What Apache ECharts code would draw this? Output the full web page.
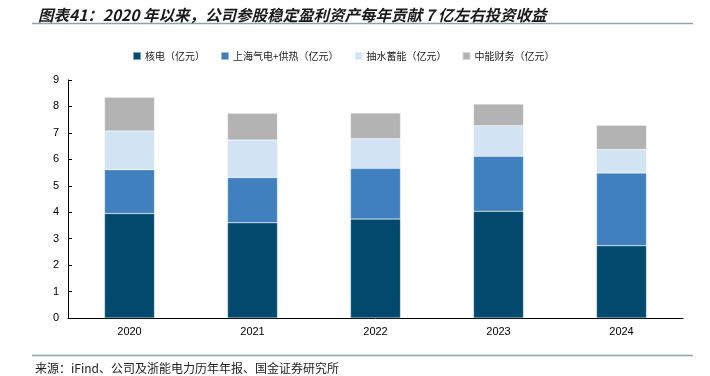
<!DOCTYPE html>
<html>
<head>
<meta charset="utf-8">
<script src="https://cdn.jsdelivr.net/npm/echarts@6/dist/echarts.min.js"></script>
<style>
html,body{margin:0;padding:0;background:#fff;}
#c{width:710px;height:376px;}
</style>
</head>
<body>
<div id="c"></div>
<script>
var categories = ['2020', '2021', '2022', '2023', '2024'];
var nuclear = [3.95, 3.60, 3.74, 4.04, 2.73];
var shanghaiGas = [1.66, 1.71, 1.92, 2.08, 2.75];
var pumpedHydro = [1.46, 1.42, 1.12, 1.15, 0.89];
var zhongnengFinance = [1.28, 1.01, 0.97, 0.82, 0.92];
var seriesNames = ['核电（亿元）', '上海气电+供热（亿元）', '抽水蓄能（亿元）', '中能财务（亿元）'];
var yTicks = [0, 1, 2, 3, 4, 5, 6, 7, 8, 9];
var colors = ['#014A6E', '#4180BE', '#D2E3F3', '#B3B3B3'];

var cjk = '"Noto Sans CJK SC", "Noto Sans", sans-serif';
var chart = echarts.init(document.getElementById('c'), null, {renderer: 'canvas'});

function mk(name, data, color) {
  return {
    name: name, type: 'bar', stack: 'total', data: data, barWidth: 50,
    itemStyle: {color: color, borderColor: 'rgba(255,255,255,0.5)', borderWidth: 0.5},
    emphasis: {disabled: true}
  };
}

chart.setOption({
  animation: false,
  color: colors,
  title: {
    text: '图表41：2020 年以来，公司参股稳定盈利资产每年贡献 7 亿左右投资收益',
    left: 33, top: 2,
    textStyle: {fontFamily: cjk, fontSize: 15.5, fontWeight: 'bold', fontStyle: 'italic', color: '#1a1a1a'}
  },
  legend: {
    data: seriesNames,
    left: 127, top: 46,
    icon: 'rect', itemWidth: 8, itemHeight: 8, itemGap: 15,
    textStyle: {fontFamily: cjk, fontSize: 10, color: '#222', padding: [0, 0, 0, -1]}
  },
  grid: {left: 68, right: 27, top: 80, bottom: 58},
  xAxis: {
    type: 'category', data: categories,
    axisLine: {lineStyle: {color: '#000', width: 1}},
    axisTick: {inside: true, length: 5, lineStyle: {color: '#000'}},
    axisLabel: {fontFamily: 'Liberation Sans, Arial, sans-serif', fontSize: 11, color: '#000', margin: 8}
  },
  yAxis: {
    type: 'value', min: yTicks[0], max: yTicks[yTicks.length - 1], interval: 1,
    axisLine: {show: true, lineStyle: {color: '#000', width: 1}},
    axisTick: {show: true, inside: true, length: 4, lineStyle: {color: '#000'}},
    splitLine: {show: false},
    axisLabel: {fontFamily: 'Liberation Sans, Arial, sans-serif', fontSize: 11, color: '#000', margin: 9}
  },
  series: [
    mk(seriesNames[0], nuclear, colors[0]),
    mk(seriesNames[1], shanghaiGas, colors[1]),
    mk(seriesNames[2], pumpedHydro, colors[2]),
    mk(seriesNames[3], zhongnengFinance, colors[3])
  ],
  graphic: [
    {type: 'line', shape: {x1: 32, y1: 23.5, x2: 693, y2: 23.5}, style: {stroke: '#8DA3B3', lineWidth: 1.5}},
    {type: 'line', shape: {x1: 32, y1: 355.5, x2: 693, y2: 355.5}, style: {stroke: '#8DA3B3', lineWidth: 1.5}},
    {type: 'text', left: 35, top: 362, style: {text: '来源：iFind、公司及浙能电力历年年报、国金证券研究所', fontFamily: cjk, fontSize: 12, fill: '#222'}}
  ]
});
</script>
</body>
</html>
